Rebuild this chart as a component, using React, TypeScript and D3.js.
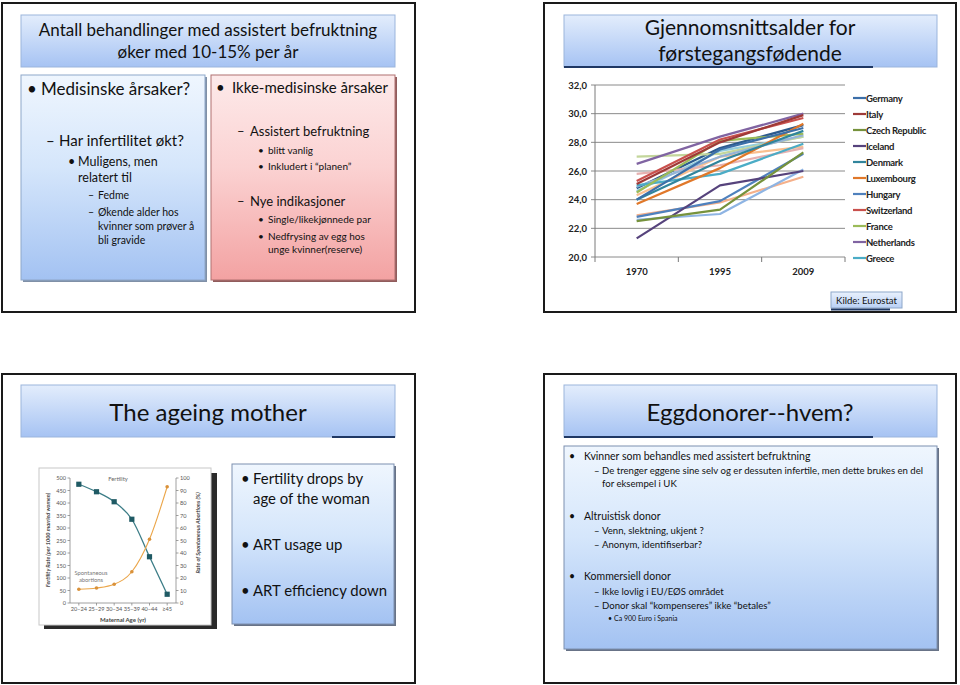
import React, { useEffect } from 'react';
import * as d3 from 'd3';

// ---------- DATA ----------
const years = ['1970', '1995', '2009'];
const countries = [
  'Germany', 'Italy', 'Czech Republic', 'Iceland', 'Denmark', 'Luxembourg',
  'Hungary', 'Switzerland', 'France', 'Netherlands', 'Greece',
  'Spain', 'Sweden', 'Finland', 'Portugal', 'Slovakia', 'Bulgaria', 'Norway', 'United Kingdom',
];
const firstBirthAge: number[][] = [
  [24.0, 27.5, 29.0],
  [25.1, 28.0, 29.9],
  [22.5, 23.3, 27.3],
  [21.3, 25.0, 26.0],
  [24.0, 26.7, 28.8],
  [23.7, 26.2, 29.3],
  [22.8, 23.9, 27.2],
  [25.3, 28.2, 29.7],
  [24.5, 28.1, 28.6],
  [26.5, 28.4, 30.0],
  [25.0, 25.8, 27.9],
  [24.9, 27.0, 28.5],
  [25.8, 26.4, 27.6],
  [27.0, 27.2, 28.4],
  [24.3, 27.0, 27.7],
  [22.6, 23.0, 26.1],
  [22.9, 23.8, 25.6],
  [24.6, 27.4, 28.4],
  [24.8, 27.6, 29.2],
];
const legendCount = 11;
const yTicks = [20, 22, 24, 26, 28, 30, 32];

const ageGroups = ['20–24', '25–29', '30–34', '35–39', '40–44', '≥45'];
const fertilityRate = [475, 445, 405, 335, 185, 35];
const abortionRate = [11, 12, 15, 25, 51, 93];
const fertTicks = [0, 50, 100, 150, 200, 250, 300, 350, 400, 450, 500];
const abortTicks = [0, 10, 20, 30, 40, 50, 60, 70, 80, 90, 100];

// ---------- STYLE ----------
const seriesColors = [
  '#3c6fa9', '#9e3a38', '#76923c', '#56437c', '#31859c', '#e0782a',
  '#4f81bd', '#c9504d', '#9bbb59', '#8064a2', '#4bacc6',
  '#95b3d7', '#e6b1b0', '#c3d69b', '#fac090', '#8eb4e3', '#f5b08a', '#93cddd', '#2c5a8c',
];
const FONT = 'Lato, "Open Sans", sans-serif';
const TXT = '#111';

function Panel({ x, y, w, h }: { x: number; y: number; w: number; h: number }) {
  return <rect x={x} y={y} width={w} height={h} fill="#fff" stroke="#1a1a1a" strokeWidth={2} />;
}

function Box({ x, y, w, h, grad, stroke, shadow }: any) {
  return (
    <g>
      <rect x={x + 2} y={y + 2} width={w} height={h} fill={shadow} opacity={0.85} />
      <rect x={x} y={y} width={w} height={h} fill={`url(#${grad})`} stroke={stroke} strokeWidth={1} />
    </g>
  );
}

function T({ x, y, s, children, anchor = 'start', weight = 400, fill = TXT }: any) {
  return (
    <text x={x} y={y} fontSize={s} textAnchor={anchor} fontWeight={weight} fill={fill} fontFamily={FONT}>
      {children}
    </text>
  );
}

export default function App() {
  useEffect(() => {
    document.body.style.margin = '0';
  }, []);

  // line chart scales
  const x = d3.scalePoint<string>().domain(years).range([595, 845]).padding(0.5);
  const y = d3.scaleLinear().domain([20, 32]).range([257, 85]);
  const line = d3
    .line<number>()
    .x((_, i) => x(years[i]) as number)
    .y((d) => y(d));
  const step = x.step();
  const xBounds = [0, 1, 2, 3].map((i) => 595 + i * step);

  // fertility chart scales
  const fx = d3.scalePoint<string>().domain(ageGroups).range([70, 176]).padding(0.5);
  const fy = d3.scaleLinear().domain([0, 500]).range([603, 478]);
  const ay = d3.scaleLinear().domain([0, 100]).range([603, 478]);
  const fLine = d3
    .line<number>()
    .x((_, i) => fx(ageGroups[i]) as number)
    .y((d) => fy(d))
    .curve(d3.curveMonotoneX);
  const aLine = d3
    .line<number>()
    .x((_, i) => fx(ageGroups[i]) as number)
    .y((d) => ay(d))
    .curve(d3.curveMonotoneX);

  return (
    <svg width={960} height={685} style={{ position: 'absolute', left: 0, top: 0, display: 'block' }}>
      <defs>
        <linearGradient id="gTitle" x1="0" y1="0" x2="0" y2="1">
          <stop offset="0" stopColor="#e3edfc" />
          <stop offset="1" stopColor="#a6c3f3" />
        </linearGradient>
        <linearGradient id="gBlue" x1="0" y1="0" x2="0" y2="1">
          <stop offset="0" stopColor="#eff6fe" />
          <stop offset="0.45" stopColor="#d5e6fb" />
          <stop offset="1" stopColor="#a3c2f2" />
        </linearGradient>
        <linearGradient id="gPink" x1="0" y1="0" x2="0" y2="1">
          <stop offset="0" stopColor="#fdeaea" />
          <stop offset="0.45" stopColor="#fbd2d2" />
          <stop offset="1" stopColor="#f3a2a2" />
        </linearGradient>
        <linearGradient id="gKilde" x1="0" y1="0" x2="0" y2="1">
          <stop offset="0" stopColor="#e9f1fd" />
          <stop offset="1" stopColor="#b9d0f5" />
        </linearGradient>
      </defs>
      <rect x={0} y={0} width={960} height={685} fill="#fff" />

      {/* ---------- Panel 1 ---------- */}
      <Panel x={2} y={3} w={413} h={309} />
      <rect x={21} y={15} width={374} height={52} fill="url(#gTitle)" stroke="#9bb5dc" strokeWidth={1} />
      <T x={208} y={36} s={17} anchor="middle">Antall behandlinger med assistert befruktning</T>
      <T x={208} y={58} s={17} anchor="middle">øker med 10-15% per år</T>

      <Box x={21} y={75} w={184} h={205} grad="gBlue" stroke="#8ea7c9" shadow="#6a7c98" />
      <T x={27} y={95} s={17}>•</T>
      <T x={41} y={95} s={17}>Medisinske årsaker?</T>
      <T x={46} y={146} s={15}>–</T>
      <T x={59} y={146} s={15}>Har infertilitet økt?</T>
      <T x={68} y={166} s={12.5}>•</T>
      <T x={78} y={166} s={12.5}>Muligens, men</T>
      <T x={78} y={182} s={12.5}>relatert til</T>
      <T x={88} y={199} s={10.5}>–</T>
      <T x={98} y={199} s={10.5}>Fedme</T>
      <T x={88} y={216} s={10.5}>–</T>
      <T x={98} y={216} s={10.5}>Økende alder hos</T>
      <T x={98} y={230} s={10.5}>kvinner som prøver å</T>
      <T x={98} y={244} s={10.5}>bli gravide</T>

      <Box x={211} y={75} w={184} h={205} grad="gPink" stroke="#b07070" shadow="#7d3f3f" />
      <T x={216} y={93} s={15}>•</T>
      <T x={232} y={93} s={15}>Ikke-medisinske årsaker</T>
      <T x={237} y={136} s={13}>–</T>
      <T x={250} y={136} s={13}>Assistert befruktning</T>
      <T x={258} y={154} s={10}>•</T>
      <T x={268} y={154} s={10}>blitt vanlig</T>
      <T x={258} y={170} s={10}>•</T>
      <T x={268} y={170} s={10}>Inkludert i “planen”</T>
      <T x={237} y={206} s={13}>–</T>
      <T x={250} y={206} s={13}>Nye indikasjoner</T>
      <T x={258} y={223} s={10}>•</T>
      <T x={268} y={223} s={10}>Single/likekjønnede par</T>
      <T x={258} y={240} s={10}>•</T>
      <T x={268} y={240} s={10}>Nedfrysing av egg hos</T>
      <T x={268} y={253} s={10}>unge kvinner(reserve)</T>

      {/* ---------- Panel 2 ---------- */}
      <Panel x={544} y={3} w={412} h={309} />
      <rect x={564} y={15} width={373} height={52} fill="url(#gTitle)" stroke="#9bb5dc" strokeWidth={1} />
      <line x1={564} x2={873} y1={67} y2={67} stroke="#1f3864" strokeWidth={2} />
      <T x={750} y={35} s={21} anchor="middle">Gjennomsnittsalder for</T>
      <T x={750} y={61} s={21} anchor="middle">førstegangsfødende</T>

      {yTicks.map((t) => (
        <g key={t}>
          <line x1={591} x2={845} y1={y(t)} y2={y(t)} stroke="#8a8a8a" strokeWidth={1} />
          <text x={587} y={y(t) + 3.5} fontSize={9.5} fontWeight={700} textAnchor="end" fill="#222" fontFamily={FONT}>
            {t.toFixed(1).replace('.', ',')}
          </text>
        </g>
      ))}
      <line x1={595} x2={595} y1={85} y2={257} stroke="#7a7a7a" strokeWidth={1} />
      {xBounds.map((b, i) => (
        <line key={i} x1={b} x2={b} y1={257} y2={262} stroke="#7a7a7a" strokeWidth={1} />
      ))}
      {years.map((yr) => (
        <text key={yr} x={x(yr)} y={275} fontSize={9.5} fontWeight={700} textAnchor="middle" fill="#222" fontFamily={FONT}>
          {yr}
        </text>
      ))}
      {firstBirthAge.map((vals, i) => ({ vals, i }))
        .slice()
        .reverse()
        .map(({ vals, i }) => (
          <path key={countries[i]} d={line(vals) as string} fill="none" stroke={seriesColors[i]} strokeWidth={2.2} strokeLinejoin="round" />
        ))}
      {countries.slice(0, legendCount).map((c, i) => (
        <g key={c}>
          <line x1={853} x2={866} y1={98 + i * 16} y2={98 + i * 16} stroke={seriesColors[i]} strokeWidth={2.2} />
          <text x={866} y={101.5 + i * 16} fontSize={9.5} fontWeight={700} fill="#222" fontFamily={FONT} letterSpacing={-0.3}>
            {c}
          </text>
        </g>
      ))}
      <rect x={831} y={292} width={71} height={16} fill="url(#gKilde)" stroke="#8ea7c9" strokeWidth={1} />
      <line x1={831} x2={890} y1={309.5} y2={309.5} stroke="#1f3864" strokeWidth={2} />
      <T x={866.5} y={303.5} s={9.5} anchor="middle">Kilde: Eurostat</T>

      {/* ---------- Panel 3 ---------- */}
      <Panel x={2} y={374} w={413} h={309} />
      <rect x={21} y={385} width={374} height={52} fill="url(#gTitle)" stroke="#9bb5dc" strokeWidth={1} />
      <line x1={332} x2={395} y1={437} y2={437} stroke="#1f3864" strokeWidth={2} />
      <T x={208} y={421} s={24} anchor="middle">The ageing mother</T>

      {/* inset chart */}
      <rect x={44} y={473} width={173} height={156} fill="#2a2a2a" />
      <rect x={39} y={468} width={172} height={157} fill="#fff" stroke="#c8c8c8" strokeWidth={1} />
      <line x1={70} x2={70} y1={478} y2={603} stroke="#888" strokeWidth={0.8} />
      <line x1={176} x2={176} y1={478} y2={603} stroke="#888" strokeWidth={0.8} />
      <line x1={70} x2={176} y1={603} y2={603} stroke="#888" strokeWidth={0.8} />
      {fertTicks.map((t) => (
        <g key={'f' + t}>
          <line x1={67.5} x2={70} y1={fy(t)} y2={fy(t)} stroke="#888" strokeWidth={0.8} />
          <text x={66} y={fy(t) + 2} fontSize={5.6} textAnchor="end" fill="#555" fontFamily={FONT}>{t}</text>
        </g>
      ))}
      {abortTicks.map((t) => (
        <g key={'a' + t}>
          <line x1={176} x2={178.5} y1={ay(t)} y2={ay(t)} stroke="#888" strokeWidth={0.8} />
          <text x={180} y={ay(t) + 2} fontSize={5.6} fill="#555" fontFamily={FONT}>{t}</text>
        </g>
      ))}
      {ageGroups.map((g) => (
        <g key={g}>
          <line x1={fx(g)} x2={fx(g)} y1={603} y2={605.5} stroke="#888" strokeWidth={0.8} />
          <text x={fx(g)} y={611} fontSize={5.6} textAnchor="middle" fill="#555" fontFamily={FONT}>{g}</text>
        </g>
      ))}
      <text x={123} y={622} fontSize={6} fontWeight={700} textAnchor="middle" fill="#444" fontFamily={FONT}>Maternal Age (yr)</text>
      <text transform="translate(50,540) rotate(-90)" fontSize={5.6} fontWeight={700} fontStyle="italic" textAnchor="middle" fill="#444" fontFamily={FONT}>
        Fertility Rate (per 1000 married women)
      </text>
      <text transform="translate(200,533) rotate(-90)" fontSize={5.6} fontWeight={700} fontStyle="italic" textAnchor="middle" fill="#444" fontFamily={FONT}>
        Rate of Spontaneous Abortions (%)
      </text>
      <text x={118} y={481} fontSize={5.8} textAnchor="middle" fill="#666" fontFamily={FONT}>Fertility</text>
      <text x={91} y={575} fontSize={5.8} textAnchor="middle" fill="#777" fontFamily={FONT}>Spontaneous</text>
      <text x={91} y={582} fontSize={5.8} textAnchor="middle" fill="#777" fontFamily={FONT}>abortions</text>
      <path d={fLine(fertilityRate) as string} fill="none" stroke="#3c7d87" strokeWidth={1.3} />
      <path d={aLine(abortionRate) as string} fill="none" stroke="#eba64a" strokeWidth={1.1} />
      {fertilityRate.map((v, i) => (
        <rect key={'fm' + i} x={(fx(ageGroups[i]) as number) - 2.6} y={fy(v) - 2.6} width={5.2} height={5.2} fill="#1f5a64" />
      ))}
      {abortionRate.map((v, i) => (
        <circle key={'am' + i} cx={fx(ageGroups[i]) as number} cy={ay(v)} r={1.8} fill="#d9913a" />
      ))}

      <Box x={232} y={464} w={162} h={160} grad="gBlue" stroke="#7d90b0" shadow="#4e5a72" />
      <T x={241} y={484} s={14.9}>•</T>
      <T x={253} y={484} s={14.9}>Fertility drops by</T>
      <T x={253} y={504} s={14.9}>age of the woman</T>
      <T x={241} y={550} s={14.9}>•</T>
      <T x={253} y={550} s={14.9}>ART usage up</T>
      <T x={241} y={596} s={14.9}>•</T>
      <T x={253} y={596} s={14.9}>ART efficiency down</T>

      {/* ---------- Panel 4 ---------- */}
      <Panel x={544} y={374} w={412} h={309} />
      <rect x={564} y={385} width={373} height={52} fill="url(#gTitle)" stroke="#9bb5dc" strokeWidth={1} />
      <line x1={564} x2={873} y1={437} y2={437} stroke="#1f3864" strokeWidth={2} />
      <T x={750} y={421} s={24} anchor="middle">Eggdonorer--hvem?</T>

      <Box x={564} y={446} w={373} h={203} grad="gBlue" stroke="#7d90b0" shadow="#4e5a72" />
      <T x={569} y={459.5} s={10.5}>•</T>
      <T x={584} y={459.5} s={10.5}>Kvinner som behandles med assistert befruktning</T>
      <T x={594} y={473.5} s={9.6}>–</T>
      <T x={602} y={473.5} s={9.6}>De trenger eggene sine selv og er dessuten infertile, men dette brukes en del</T>
      <T x={602} y={486.5} s={9.6}>for eksempel i UK</T>
      <T x={569} y={519.5} s={10.5}>•</T>
      <T x={584} y={519.5} s={10.5}>Altruistisk donor</T>
      <T x={594} y={533.5} s={9.6}>–</T>
      <T x={602} y={533.5} s={9.6}>Venn, slektning, ukjent ?</T>
      <T x={594} y={547.5} s={9.6}>–</T>
      <T x={602} y={547.5} s={9.6}>Anonym, identifiserbar?</T>
      <T x={569} y={579.5} s={10.5}>•</T>
      <T x={584} y={579.5} s={10.5}>Kommersiell donor</T>
      <T x={594} y={594.5} s={9.6}>–</T>
      <T x={602} y={594.5} s={9.6}>Ikke lovlig i EU/EØS området</T>
      <T x={594} y={608.5} s={9.6}>–</T>
      <T x={602} y={608.5} s={9.6}>Donor skal “kompenseres” ikke “betales”</T>
      <T x={608} y={621} s={7}>•</T>
      <T x={614} y={621} s={7}>Ca 900 Euro i Spania</T>
    </svg>
  );
}
